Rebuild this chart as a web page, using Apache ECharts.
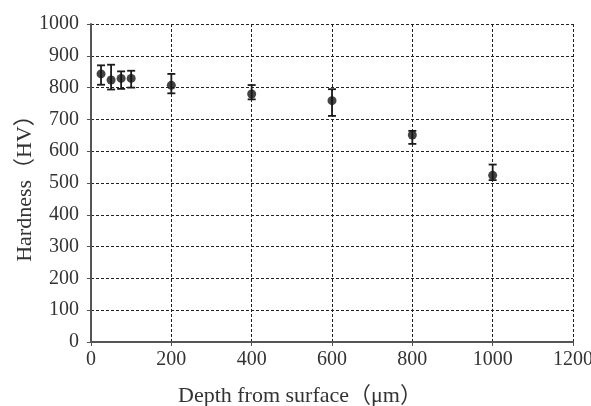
<!DOCTYPE html>
<html>
<head>
<meta charset="utf-8">
<script src="https://cdn.jsdelivr.net/npm/echarts@6/dist/echarts.min.js"></script>
<style>
  html, body { margin: 0; padding: 0; background: #fff; }
  #chart { width: 591px; height: 406px; }
</style>
</head>
<body>
<div id="chart"></div>
<script>
// depth from surface (um) and measured hardness (HV)
const depth = [25, 50, 75, 100, 200, 400, 600, 800, 1000]
const hardness = [843, 824, 829, 829, 807, 780, 759, 651, 524]
const errHigh = [870, 872, 851, 853, 843, 808, 795, 664, 558]
const errLow = [809, 794, 796, 800, 782, 763, 711, 623, 509]

const xTicks = [0, 200, 400, 600, 800, 1000, 1200]
const yTicks = [0, 100, 200, 300, 400, 500, 600, 700, 800, 900, 1000]

const fontFamily = '"Liberation Serif", "Noto Sans CJK JP", serif'

const points = depth.map((d, i) => [d, hardness[i]])
const bars = depth.map((d, i) => [d, errLow[i], errHigh[i]])

const chart = echarts.init(document.getElementById('chart'))

chart.setOption({
  animation: false,
  grid: { left: 91, right: 18, top: 24, bottom: 64, outerBoundsMode: 'none', containLabel: false },
  xAxis: {
    type: 'value',
    min: xTicks[0],
    max: xTicks[xTicks.length - 1],
    interval: 200,
    name: 'Depth from surface（μm）',
    nameLocation: 'middle',
    nameGap: 43,
    nameMoveOverlap: false,
    nameTextStyle: { fontFamily: fontFamily, fontSize: 22, color: '#333', padding: [0, 64, 0, 0] },
    axisLine: { lineStyle: { color: '#555', width: 2 } },
    axisTick: { show: true, length: 4, lineStyle: { color: '#555' } },
    axisLabel: { fontFamily: fontFamily, fontSize: 20, color: '#333', margin: 8, formatter: v => String(v) },
    splitLine: { show: true, lineStyle: { color: '#222', type: [3, 2], width: 1 } }
  },
  yAxis: {
    type: 'value',
    min: yTicks[0],
    max: yTicks[yTicks.length - 1],
    interval: 100,
    name: 'Hardness（HV）',
    nameLocation: 'middle',
    nameGap: 55,
    nameMoveOverlap: false,
    nameTextStyle: { fontFamily: fontFamily, fontSize: 22, color: '#333' },
    axisLine: { show: true, lineStyle: { color: '#555', width: 2 } },
    axisTick: { show: true, length: 4, lineStyle: { color: '#555' } },
    axisLabel: { fontFamily: fontFamily, fontSize: 20, color: '#333', margin: 12, formatter: v => String(v) },
    splitLine: { show: true, lineStyle: { color: '#222', type: [3, 2], width: 1 } }
  },
  series: [
    {
      type: 'custom',
      data: bars,
      renderItem: function (params, api) {
        const x = api.value(0)
        const lo = api.coord([x, api.value(1)])
        const hi = api.coord([x, api.value(2)])
        const cap = 4
        const style = { stroke: '#1a1a1a', lineWidth: 1.8 }
        return {
          type: 'group',
          children: [
            { type: 'line', shape: { x1: lo[0], y1: lo[1], x2: hi[0], y2: hi[1] }, style: style },
            { type: 'line', shape: { x1: lo[0] - cap, y1: lo[1], x2: lo[0] + cap, y2: lo[1] }, style: style },
            { type: 'line', shape: { x1: hi[0] - cap, y1: hi[1], x2: hi[0] + cap, y2: hi[1] }, style: style }
          ]
        }
      },
      z: 3
    },
    {
      type: 'scatter',
      data: points,
      symbol: 'circle',
      symbolSize: 9,
      itemStyle: { color: '#151515' },
      z: 4
    }
  ]
})
</script>
</body>
</html>
